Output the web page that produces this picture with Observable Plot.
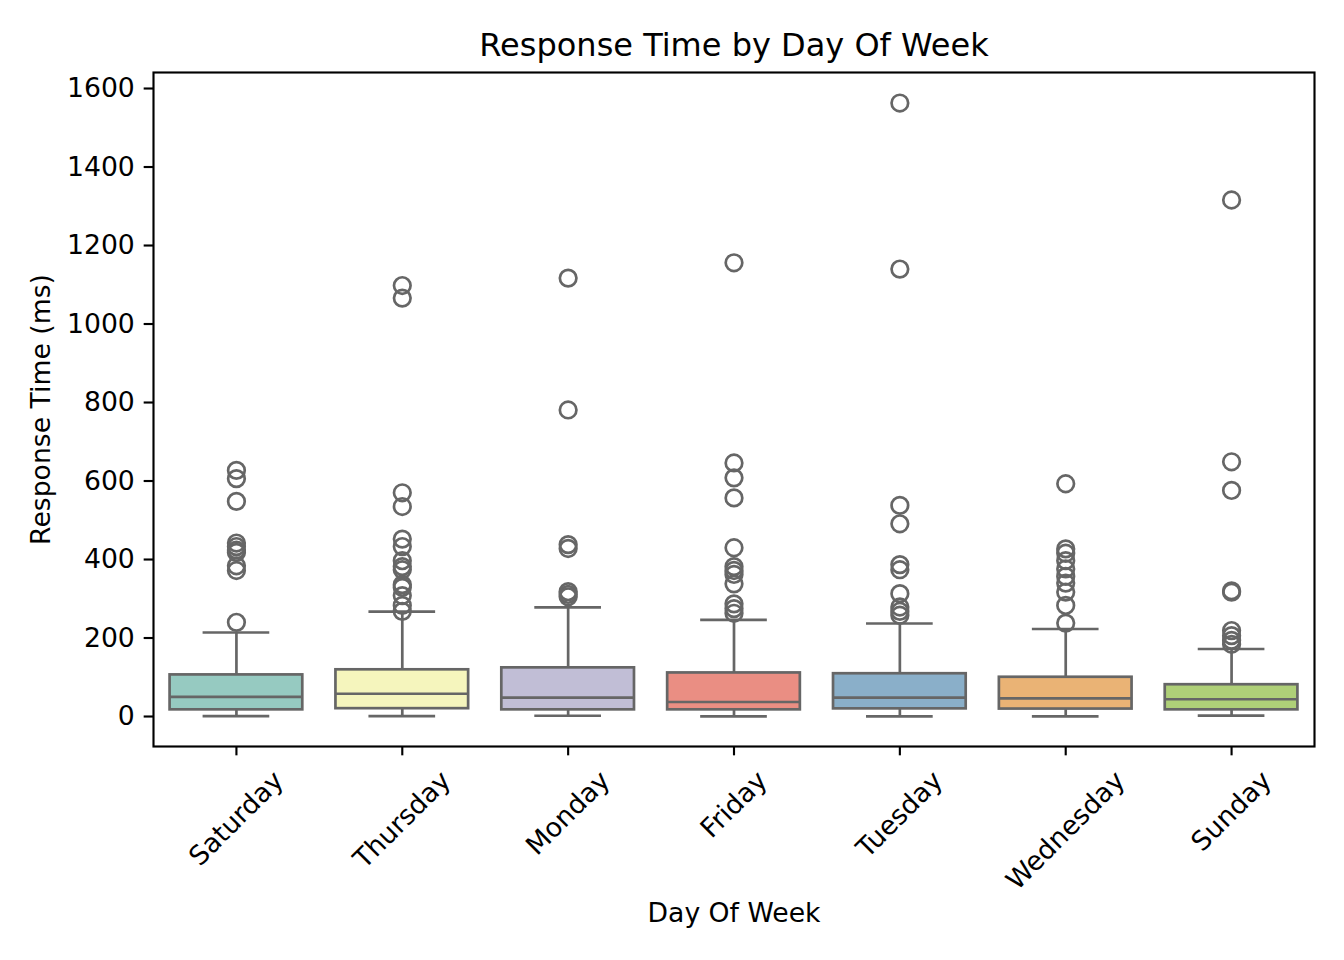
<!DOCTYPE html>
<html>
<head>
<meta charset="utf-8">
<script src="https://cdn.jsdelivr.net/npm/d3@7"></script>
<script src="https://cdn.jsdelivr.net/npm/@observablehq/plot@0.6"></script>
<style>
  html, body { margin: 0; padding: 0; background: white; }
</style>
</head>
<body>
<div id="chart"></div>
<script>
const days = ["Saturday", "Thursday", "Monday", "Friday", "Tuesday", "Wednesday", "Sunday"];
const colors = ["#96cac1", "#f5f5bd", "#c1bed6", "#ea8e83", "#8aafc9", "#eab375", "#afd078"];
const q1 = [17, 20, 17, 17, 19.5, 19, 17];
const med = [50, 58, 48, 37, 48, 46, 44];
const q3 = [106, 119, 124, 111, 109, 100, 81];
const whiskerLo = [1, 1, 2, 0.5, 0.5, 0.5, 2.5];
const whiskerHi = [214, 267, 278, 246, 237, 223, 172];
const outliers = {
  Saturday: [627, 606, 548, 442, 433, 424, 418, 384, 372, 240],
  Thursday: [1098, 1066, 570, 535, 452, 433, 397, 382, 374, 336, 329, 308, 283, 268],
  Monday: [1117, 781, 438, 428, 318, 311, 305],
  Friday: [1156, 646, 608, 557, 430, 382, 372, 362, 338, 287, 275, 263],
  Tuesday: [1563, 1140, 538, 491, 387, 374, 313, 279, 268, 258],
  Wednesday: [593, 427, 416, 397, 376, 357, 340, 317, 283, 238],
  Sunday: [1316, 649, 576, 320, 317, 219, 206, 194, 184]
};
const yTicks = [0, 200, 400, 600, 800, 1000, 1200, 1400, 1600];
const title = "Response Time by Day Of Week";
const xLabel = "Day Of Week";
const yLabel = "Response Time (ms)";

const boxes = days.map((d, i) => ({day: d, q1: q1[i], med: med[i], q3: q3[i], lo: whiskerLo[i], hi: whiskerHi[i]}));
const outlierRows = days.flatMap(d => outliers[d].map(v => ({day: d, value: v})));

const FS = 26.67;
const FONT = "DejaVu Sans";
const gray = "#666666";
const lw = 2.7;

// measure label lengths to emulate matplotlib's centered rotated labels
const ctx = document.createElement("canvas").getContext("2d");
ctx.font = `${FS}px "${FONT}"`;
const textH = 31;
const labelMarks = days.map(d => {
  const L = ctx.measureText(d).width;
  return Plot.text([d], {
    x: v => v, text: v => v, frameAnchor: "bottom", rotate: -45,
    textAnchor: "middle", lineAnchor: "middle",
    dy: 18.7 + (L + textH) * 0.3536, fontSize: FS, fill: "black"
  });
});

const chart = Plot.plot({
  width: 1344,
  height: 960,
  marginLeft: 153,
  marginRight: 30,
  marginTop: 72,
  marginBottom: 214,
  style: {fontFamily: FONT, fontSize: FS + "px", background: "white", color: "black"},
  x: {domain: days, paddingInner: 0.2, paddingOuter: 0.1, round: false, label: null},
  y: {domain: [-76.4, 1640.8], label: null},
  color: {domain: days, range: colors},
  marks: [
    Plot.ruleX(boxes, {x: "day", y1: "lo", y2: "q1", stroke: gray, strokeWidth: lw}),
    Plot.ruleX(boxes, {x: "day", y1: "q3", y2: "hi", stroke: gray, strokeWidth: lw}),
    Plot.tickY(boxes, {x: "day", y: "lo", stroke: gray, strokeWidth: lw, insetLeft: 33, insetRight: 33}),
    Plot.tickY(boxes, {x: "day", y: "hi", stroke: gray, strokeWidth: lw, insetLeft: 33, insetRight: 33}),
    Plot.barY(boxes, {x: "day", y1: "q1", y2: "q3", fill: "day", stroke: gray, strokeWidth: lw}),
    Plot.tickY(boxes, {x: "day", y: "med", stroke: gray, strokeWidth: lw}),
    Plot.dot(outlierRows, {x: "day", y: "value", r: 8.3, stroke: gray, strokeWidth: lw, fill: "none"}),
    Plot.frame({stroke: "black", strokeWidth: 2.13}),
    Plot.axisY({ticks: yTicks, tickSize: 9.33, tickPadding: 9.33, strokeWidth: 2.13, fontSize: FS, label: null, tickFormat: d => String(d)}),
    Plot.axisX({tickSize: 9.33, strokeWidth: 2.13, tickFormat: () => "", label: null}),
    ...labelMarks,
    Plot.text([yLabel], {text: d => d, frameAnchor: "left", rotate: -90, dx: -112, textAnchor: "middle", lineAnchor: "middle", fontSize: FS, fill: "black"}),
    Plot.text([xLabel], {text: d => d, frameAnchor: "bottom", dy: 167, lineAnchor: "middle", fontSize: FS, fill: "black"}),
    Plot.text([title], {text: d => d, frameAnchor: "top", dy: -27, lineAnchor: "middle", fontSize: 32, fill: "black"})
  ]
});
document.getElementById("chart").append(chart);
</script>
</body>
</html>
